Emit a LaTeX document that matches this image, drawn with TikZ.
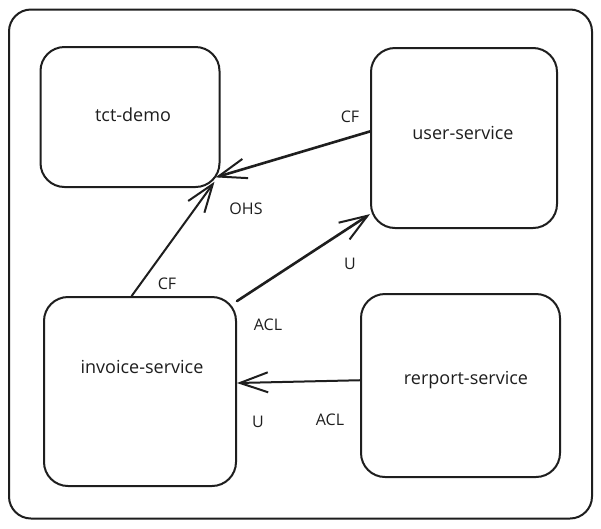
\documentclass[tikz,border=0pt]{standalone}
\usepackage{fontspec}
\setmainfont{Open Sans}
\usetikzlibrary{arrows.meta,calc}
\definecolor{ink}{HTML}{1E1E1E}
\begin{document}
\begin{tikzpicture}[x=1pt,y=-1pt,
  box/.style={draw=ink, line width=2pt, rounded corners=24pt, inner sep=0pt},
  txt/.style={font=\fontsize{18}{21}\selectfont, text=ink, inner sep=0pt},
  lbl/.style={font=\fontsize{16}{19}\selectfont, text=ink, inner sep=0pt},
  conn/.style={draw=ink, line width=2pt, line cap=round, line join=round,
    -{Straight Barb[length=28pt,width=20pt,line width=2pt]}},
  thick conn/.style={conn, line width=2.6pt}]
\fill[white] (0,0) rectangle (601,528);
\useasboundingbox (0,0) rectangle (601,528);
\node[box, minimum width=583pt, minimum height=509pt, rounded corners=22pt] (frame) at (300.5,264) {};
\node[box, minimum width=179pt, minimum height=140pt] (td) at (130,117) {};
\node[box, minimum width=186pt, minimum height=180pt] (us) at (464,138) {};
\node[box, minimum width=192pt, minimum height=189pt] (inv) at (140,391.5) {};
\node[box, minimum width=199pt, minimum height=183pt] (rp) at (460.5,385.5) {};
\node[txt] (ttd) at (133,115) {tct-demo};
\node[txt] (tus) at (463,133) {user-service};
\node[txt] (tinv) at (142,367) {invoice-service};
\node[txt] (trp) at (466,380) {rerport-service};
\draw[thick conn] (us.176) -- ($(td.-35)+(-5,-3)$);
\draw[conn] (inv.95) -- ($(td.-36)+(-6,-1)$);
\draw[thick conn] (inv.43) -- (us.219);
\draw[conn] (rp.177) -- (inv.5);
\node[lbl] (l1) at (350,117) {CF};
\node[lbl] (l2) at (246,209) {OHS};
\node[lbl] (l3) at (167,284) {CF};
\node[lbl] (l4) at (350,264) {U};
\node[lbl] (l5) at (268,325) {ACL};
\node[lbl] (l6) at (258,422) {U};
\node[lbl] (l7) at (330,420) {ACL};
\end{tikzpicture}
\end{document}
